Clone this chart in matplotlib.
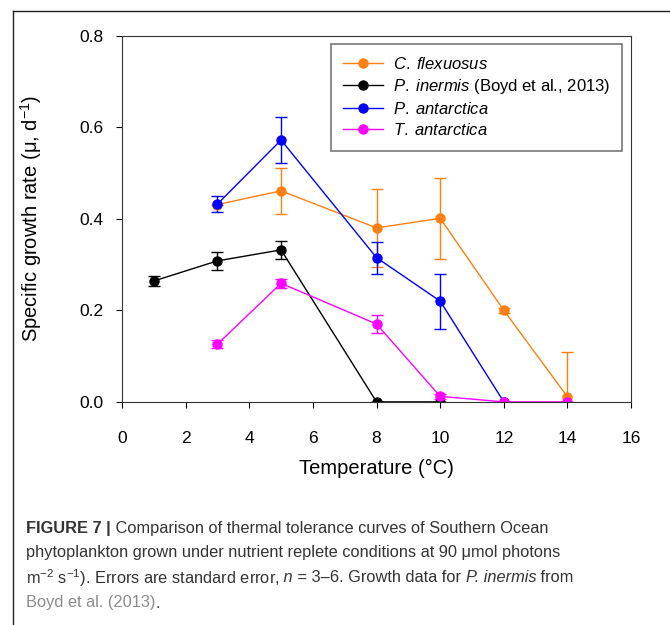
import numpy as np
import matplotlib
matplotlib.use('Agg')
import matplotlib.pyplot as plt
from matplotlib.lines import Line2D

# data
cf_temp = [3, 5, 8, 10, 12, 14]
cf_rate = [0.431, 0.461, 0.380, 0.401, 0.200, 0.011]
cf_err = [0.0, 0.050, 0.085, 0.089, 0.006, 0.098]

pi_temp = [1, 3, 5, 8, 10]
pi_rate = [0.264, 0.308, 0.332, 0.0, 0.0]
pi_err = [0.010, 0.019, 0.020, 0.0, 0.0]

pa_temp = [3, 5, 8, 10, 12]
pa_rate = [0.432, 0.572, 0.315, 0.220, 0.0]
pa_err = [0.018, 0.051, 0.035, 0.060, 0.0]

ta_temp = [3, 5, 8, 10, 12, 14]
ta_rate = [0.126, 0.259, 0.170, 0.012, 0.0, 0.0]
ta_err = [0.009, 0.010, 0.020, 0.006, 0.0, 0.0]

x_ticks = [0, 2, 4, 6, 8, 10, 12, 14, 16]
y_ticks = [0.0, 0.2, 0.4, 0.6, 0.8]

series = [
    (cf_temp, cf_rate, cf_err, '#ff7f10', r'$\mathit{C.}\;\mathit{flexuosus}$'),
    (pi_temp, pi_rate, pi_err, 'black', r'$\mathit{P.}\;\mathit{inermis}$ (Boyd et al., 2013)'),
    (pa_temp, pa_rate, pa_err, '#0000ff', r'$\mathit{P.}\;\mathit{antarctica}$'),
    (ta_temp, ta_rate, ta_err, '#ff00ff', r'$\mathit{T.}\;\mathit{antarctica}$'),
]

plt.rcParams['font.family'] = ['Liberation Sans', 'DejaVu Sans']
plt.rcParams['mathtext.fontset'] = 'custom'
plt.rcParams['mathtext.rm'] = 'Liberation Sans'
plt.rcParams['mathtext.it'] = 'Liberation Sans:italic'

fig = plt.figure(figsize=(6.7, 6.25), dpi=100)
ax = fig.add_axes([0.182, 0.357, 0.760, 0.586])

for t, r, e, c, lab in series:
    ax.errorbar(t, r, yerr=e, color=c, marker='o', markersize=6.5, lw=1.0,
                elinewidth=1.0, capsize=4.5, capthick=1.0, label=lab)

ax.set_xlim(0, 16)
ax.set_ylim(0, 0.8)
ax.set_xticks(x_ticks)
ax.set_yticks(y_ticks)
ax.set_yticklabels(['%.1f' % v for v in y_ticks])
ax.tick_params(direction='out', length=4, width=0.8, labelsize=12.5)
ax.tick_params(axis='x', pad=17)
ax.tick_params(axis='y', pad=9)
for s in ax.spines.values():
    s.set_linewidth(0.8)
    s.set_color('#333333')
ax.set_xlabel('Temperature (°C)', fontsize=14.5, labelpad=9)
ax.set_ylabel(r'Specific growth rate (μ, d$^{-1}$)', fontsize=14.5, labelpad=26)

# legend handles without error bars
handles = [Line2D([], [], color=c, marker='o', markersize=6.5, lw=1.0) for _, _, _, c, _ in series]
leg = ax.legend(handles, [s[4] for s in series], loc='upper right', fontsize=12,
                frameon=True, fancybox=False, handlelength=2.35, handletextpad=0.6,
                borderpad=0.75, labelspacing=0.3, bbox_to_anchor=(0.983, 0.978),
                borderaxespad=0)
leg.get_frame().set_edgecolor('#555555')
leg.get_frame().set_linewidth(1.2)

# outer frame (top and left edges visible)
fig.add_artist(Line2D([13 / 670, 1], [1 - 10.5 / 625, 1 - 10.5 / 625], color='#222222', lw=1.0))
fig.add_artist(Line2D([13 / 670, 13 / 670], [0, 1 - 10.5 / 625], color='#222222', lw=1.0))

# caption with mixed styles
cap_font = ['Liberation Sans', 'DejaVu Sans']
cap_size = 11.8
dark = '#333333'
light = '#8c8c8c'
lines = [
    [('FIGURE 7 |', 'bold', 'normal', dark), (' Comparison of thermal tolerance curves of Southern Ocean', 'normal', 'normal', dark)],
    [('phytoplankton grown under nutrient replete conditions at 90 μmol photons', 'normal', 'normal', dark)],
    [('m$^{-2}$ s$^{-1}$). Errors are standard error,', 'normal', 'normal', dark), (' n', 'normal', 'italic', dark),
     (' = 3–6. Growth data for ', 'normal', 'normal', dark), ('P. inermis', 'normal', 'italic', dark),
     (' from', 'normal', 'normal', dark)],
    [('Boyd et al. (2013)', 'normal', 'normal', light), ('.', 'normal', 'normal', dark)],
]
renderer = fig.canvas.get_renderer()
y0 = 1 - 528 / 625
for i, segs in enumerate(lines):
    x = 26 / 670
    y = y0 - i * 25 / 625
    for txt, wt, st, col in segs:
        t = fig.text(x, y, txt, fontsize=cap_size, family=cap_font, weight=wt, style=st,
                     color=col, va='center', ha='left')
        bb = t.get_window_extent(renderer=renderer)
        x = bb.x1 / fig.bbox.width

fig.savefig('out.png', dpi=100)
